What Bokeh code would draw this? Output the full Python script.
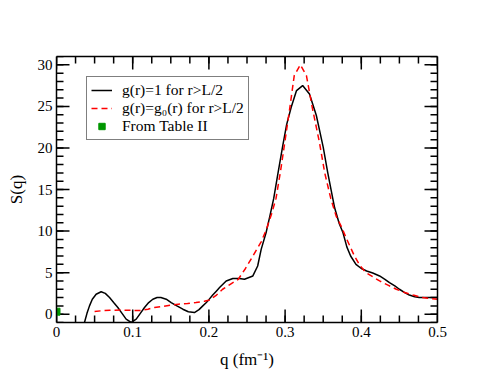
from bokeh.plotting import figure
from bokeh.models import Range1d, FixedTicker, LinearAxis, Legend, LegendItem, CustomJSTickFormatter
from bokeh.embed import file_html
from bokeh.resources import INLINE

# g(r)=1 for r>L/2
q1 = [0.034, 0.0367, 0.04, 0.0433, 0.047, 0.052, 0.0586, 0.064, 0.0696, 0.075, 0.0805,
      0.086, 0.0914, 0.098, 0.1046, 0.11, 0.1155, 0.121, 0.1264, 0.132, 0.137, 0.144,
      0.1505, 0.158, 0.1658, 0.173, 0.181, 0.187, 0.192, 0.196, 0.2, 0.205, 0.21, 0.214,
      0.2227, 0.2314, 0.24, 0.2467, 0.2577, 0.264, 0.2686, 0.275, 0.28, 0.285, 0.29,
      0.297, 0.302, 0.308, 0.315, 0.323, 0.332, 0.341, 0.35, 0.356, 0.3626, 0.365,
      0.371, 0.376, 0.381, 0.386, 0.393, 0.4, 0.407, 0.415, 0.424, 0.431, 0.437, 0.444,
      0.45, 0.457, 0.463, 0.47, 0.476, 0.49, 0.5]
s1 = [-1.6, -1.0, 0.1, 1.0, 1.8, 2.4, 2.7, 2.5, 2.0, 1.4, 0.8,
      0.1, -0.6, -1.0, -0.6, 0.1, 0.8, 1.4, 1.8, 2.0, 2.0, 1.8,
      1.4, 1.0, 0.6, 0.3, 0.2, 0.55, 1.0, 1.35, 1.75, 2.3, 2.8, 3.2,
      4.0, 4.3, 4.3, 4.2, 4.6, 5.8, 7.8, 9.8, 11.8, 13.9, 16.6,
      20.3, 22.8, 24.9, 26.9, 27.5, 26.5, 23.9, 20.1, 17.0, 13.9, 12.8,
      10.9, 9.8, 8.1, 7.0, 6.0, 5.5, 5.2, 4.95, 4.6, 4.2, 3.8, 3.4,
      3.0, 2.6, 2.3, 2.1, 2.0, 2.0, 2.0]

# g(r)=g0(r) for r>L/2
q2 = [0.05, 0.06, 0.07, 0.085, 0.1, 0.111, 0.12, 0.1286, 0.14, 0.15, 0.16, 0.172, 0.183,
      0.194, 0.2008, 0.21, 0.218, 0.228, 0.2385, 0.248, 0.2577, 0.2686, 0.2755, 0.282,
      0.288, 0.294, 0.299, 0.306, 0.312, 0.32, 0.328, 0.336, 0.345, 0.352, 0.36, 0.367,
      0.374, 0.38, 0.385, 0.391, 0.398, 0.406, 0.415, 0.424, 0.435, 0.446, 0.457, 0.468,
      0.48, 0.49, 0.5]
s2 = [0.32, 0.42, 0.48, 0.5, 0.45, 0.45, 0.6, 0.8, 0.95, 1.1, 1.2, 1.3, 1.4,
      1.55, 1.7, 2.3, 3.0, 3.6, 4.2, 5.5, 7.0, 8.7, 10.2, 12.0,
      13.9, 17.2, 20.3, 24.7, 28.7, 30.0, 28.7, 24.7, 20.7, 17.0, 13.9, 11.8,
      10.5, 9.2, 8.2, 7.0, 5.9, 5.0, 4.5, 4.0, 3.5, 3.0, 2.6, 2.3,
      2.0, 1.9, 1.8]

# From Table II
q3 = [0.0]
s3 = [0.3]

x_ticks = [0, 0.1, 0.2, 0.3, 0.4, 0.5]
x_tick_labels = ["0", "0.1", "0.2", "0.3", "0.4", "0.5"]
y_ticks = [0, 5, 10, 15, 20, 25, 30]
y_tick_labels = ["0", "5", "10", "15", "20", "25", "30"]
x_minor = [i * 0.025 for i in range(21)]
y_minor = list(range(-1, 32))

X0, X1 = 0, 0.5
Y0, Y1 = -1, 31
FW, FH = 381, 266
FONT = "Liberation Serif"

p = figure(frame_width=FW, frame_height=FH, output_backend="svg", toolbar_location=None,
           x_range=Range1d(X0, X1), y_range=Range1d(Y0, Y1),
           min_border_left=56, min_border_top=56, min_border_right=40, min_border_bottom=40)
p.xgrid.visible = False
p.ygrid.visible = False
p.outline_line_color = None
p.background_fill_color = "white"
p.border_fill_color = "white"


def style_axis(ax, ticks, labels, show_labels=True):
    ax.ticker = FixedTicker(ticks=ticks)
    ax.axis_line_color = "black"
    ax.axis_line_width = 1.5
    ax.major_tick_line_color = None
    ax.minor_tick_line_color = None
    ax.major_tick_in = 0
    ax.major_tick_out = 0
    ax.minor_tick_in = 0
    ax.minor_tick_out = 0
    ax.major_label_text_font = FONT
    ax.major_label_text_font_size = "15px"
    ax.major_label_text_color = "black"
    ax.major_label_standoff = 4
    if show_labels:
        ax.major_label_overrides = {t: l for t, l in zip(ticks, labels)}
    else:
        ax.formatter = CustomJSTickFormatter(code="return ''")


style_axis(p.xaxis[0], x_ticks, x_tick_labels)
style_axis(p.yaxis[0], y_ticks, y_tick_labels)
p.xaxis.axis_label = "q (fm\u207b\u00b9)"
p.yaxis.axis_label = "S(q)"
for ax in (p.xaxis[0], p.yaxis[0]):
    ax.axis_label_text_font = FONT
    ax.axis_label_text_font_size = "17px"
    ax.axis_label_text_font_style = "normal"
    ax.axis_label_text_color = "black"
p.xaxis.axis_label_standoff = 10
p.yaxis.axis_label_standoff = 9

top = LinearAxis()
right = LinearAxis()
style_axis(top, x_ticks, x_tick_labels, show_labels=False)
style_axis(right, y_ticks, y_tick_labels, show_labels=False)
p.add_layout(top, "above")
p.add_layout(right, "right")

# inward ticks on all four sides, lengths given in screen pixels
px_x = (X1 - X0) / FW
px_y = (Y1 - Y0) / FH
for xs, L in ((x_ticks, 13), (x_minor, 7)):
    n = len(xs)
    p.segment(xs, [Y0] * n, xs, [Y0 + L * px_y] * n, line_color="black", line_width=1.5)
    p.segment(xs, [Y1] * n, xs, [Y1 - L * px_y] * n, line_color="black", line_width=1.5)
for ys, L in ((y_ticks, 13), (y_minor, 7)):
    n = len(ys)
    p.segment([X0] * n, ys, [X0 + L * px_x] * n, ys, line_color="black", line_width=1.5)
    p.segment([X1] * n, ys, [X1 - L * px_x] * n, ys, line_color="black", line_width=1.5)

r1 = p.line(q1, s1, line_color="black", line_width=1.5)
r2 = p.line(q2, s2, line_color="#ff0000", line_width=1.5, line_dash="6 4")
r3 = p.scatter(q3, s3, marker="square", size=7, fill_color="#009600", line_color="#009600")

legend = Legend(items=[
    LegendItem(label="g(r)=1 for r>L/2", renderers=[r1]),
    LegendItem(label="g(r)=g\u2080(r) for r>L/2", renderers=[r2]),
    LegendItem(label="From Table II", renderers=[r3]),
], location=(30, 182))
legend.label_text_font = FONT
legend.label_text_font_size = "15.5px"
legend.label_text_color = "black"
legend.border_line_color = "black"
legend.border_line_width = 1.5
legend.background_fill_alpha = 1
legend.padding = 4
legend.spacing = 0
legend.margin = 0
legend.label_height = 16
legend.glyph_height = 16
legend.glyph_width = 21
legend.label_standoff = 10
p.add_layout(legend, "center")

open("out.html", "w").write(file_html(p, INLINE))
